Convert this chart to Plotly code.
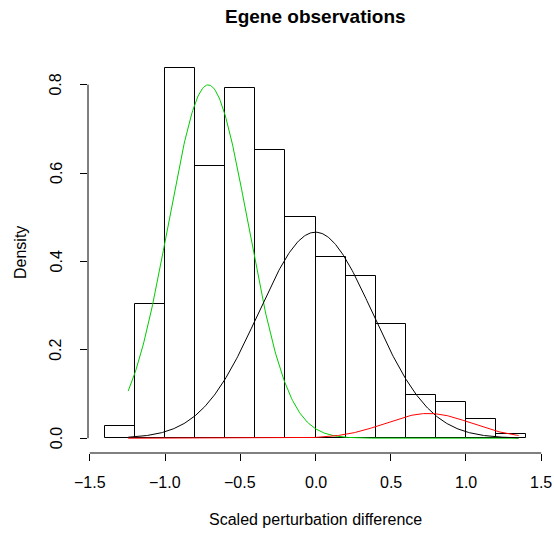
import numpy as np
import plotly.graph_objects as go

# Histogram (density scale)
bin_left = [-1.4, -1.2, -1.0, -0.8, -0.6, -0.4, -0.2, 0.0, 0.2, 0.4, 0.6, 0.8, 1.0, 1.2]
bin_width = 0.2
density = [0.027, 0.303, 0.838, 0.615, 0.793, 0.651, 0.500, 0.410, 0.366, 0.258, 0.0975, 0.081, 0.044, 0.0084]

# Fitted mixture components (weight, mean, sd) and colours
comp_weight = [0.531, 0.444, 0.040]
comp_mean = [-0.713, 0.0, 0.751]
comp_sd = [0.265, 0.38, 0.285]
comp_color = ["#00CD00", "#000000", "#FF0000"]
curve_range = [-1.245, 1.35]

x_ticks = [-1.5, -1.0, -0.5, 0.0, 0.5, 1.0, 1.5]
x_tick_labels = ["\u22121.5", "\u22121.0", "\u22120.5", "0.0", "0.5", "1.0", "1.5"]
y_ticks = [0.0, 0.2, 0.4, 0.6, 0.8]
y_tick_labels = ["0.0", "0.2", "0.4", "0.6", "0.8"]

FONT = "Liberation Sans, Arial, Helvetica, sans-serif"
FS = 16

fig = go.Figure()
centers = [b + bin_width / 2 for b in bin_left]
fig.add_trace(go.Bar(
    x=centers, y=density, width=[bin_width] * len(density),
    marker=dict(color="rgba(0,0,0,0)", line=dict(color="black", width=1)),
    showlegend=False, hoverinfo="skip",
))

xs = np.linspace(curve_range[0], curve_range[1], 400)
for w, m, s, c in zip(comp_weight, comp_mean, comp_sd, comp_color):
    ys = w * np.exp(-0.5 * ((xs - m) / s) ** 2) / (s * np.sqrt(2 * np.pi))
    fig.add_trace(go.Scatter(x=xs, y=ys, mode="lines", line=dict(color=c, width=1),
                             showlegend=False, hoverinfo="skip"))

ymax = max(density)
yr = [-0.04 * ymax, 1.04 * ymax]
xr = [-1.4 - 0.04 * 2.8, 1.4 + 0.04 * 2.8]

shapes = [
    dict(type="line", xref="x", yref="paper", x0=x_ticks[0], x1=x_ticks[-1], y0=0, y1=0,
         line=dict(color="black", width=1)),
    dict(type="line", xref="paper", yref="y", x0=0, x1=0, y0=y_ticks[0], y1=y_ticks[-1],
         line=dict(color="black", width=1)),
]
annotations = []
for v, t in zip(x_ticks, x_tick_labels):
    annotations.append(dict(x=v, y=0, xref="x", yref="paper", text=t, showarrow=False,
                            yanchor="middle", xanchor="center", yshift=-29,
                            font=dict(family=FONT, size=FS, color="black")))
for v, t in zip(y_ticks, y_tick_labels):
    annotations.append(dict(x=0, y=v, xref="paper", yref="y", text=t, showarrow=False,
                            textangle=-90, xanchor="center", yanchor="middle", xshift=-32,
                            font=dict(family=FONT, size=FS, color="black")))
annotations.append(dict(x=0.5, y=0, xref="paper", yref="paper", text="Scaled perturbation difference",
                        showarrow=False, yanchor="middle", yshift=-66,
                        font=dict(family=FONT, size=FS, color="black")))
annotations.append(dict(x=0, y=0.5, xref="paper", yref="paper", text="Density",
                        showarrow=False, textangle=-90, xanchor="center", xshift=-68,
                        font=dict(family=FONT, size=FS, color="black")))
annotations.append(dict(x=0.5, y=1, xref="paper", yref="paper", text="<b>Egene observations</b>",
                        showarrow=False, yanchor="middle", yshift=37,
                        font=dict(family=FONT, size=19, color="black")))

fig.update_layout(
    width=554, height=533,
    margin=dict(l=88, r=11, t=53, b=80),
    paper_bgcolor="white", plot_bgcolor="white",
    bargap=0,
    xaxis=dict(range=xr, showgrid=False, zeroline=False, showline=False,
               tickvals=x_ticks, ticks="outside", ticklen=7, tickcolor="black",
               showticklabels=False),
    yaxis=dict(range=yr, showgrid=False, zeroline=False, showline=False,
               tickvals=y_ticks, ticks="outside", ticklen=7, tickcolor="black",
               showticklabels=False),
    shapes=shapes, annotations=annotations,
)
fig.write_html("out.html", config={"displayModeBar": False},
               post_script="document.body.style.margin='0';document.body.style.overflow='hidden';")
